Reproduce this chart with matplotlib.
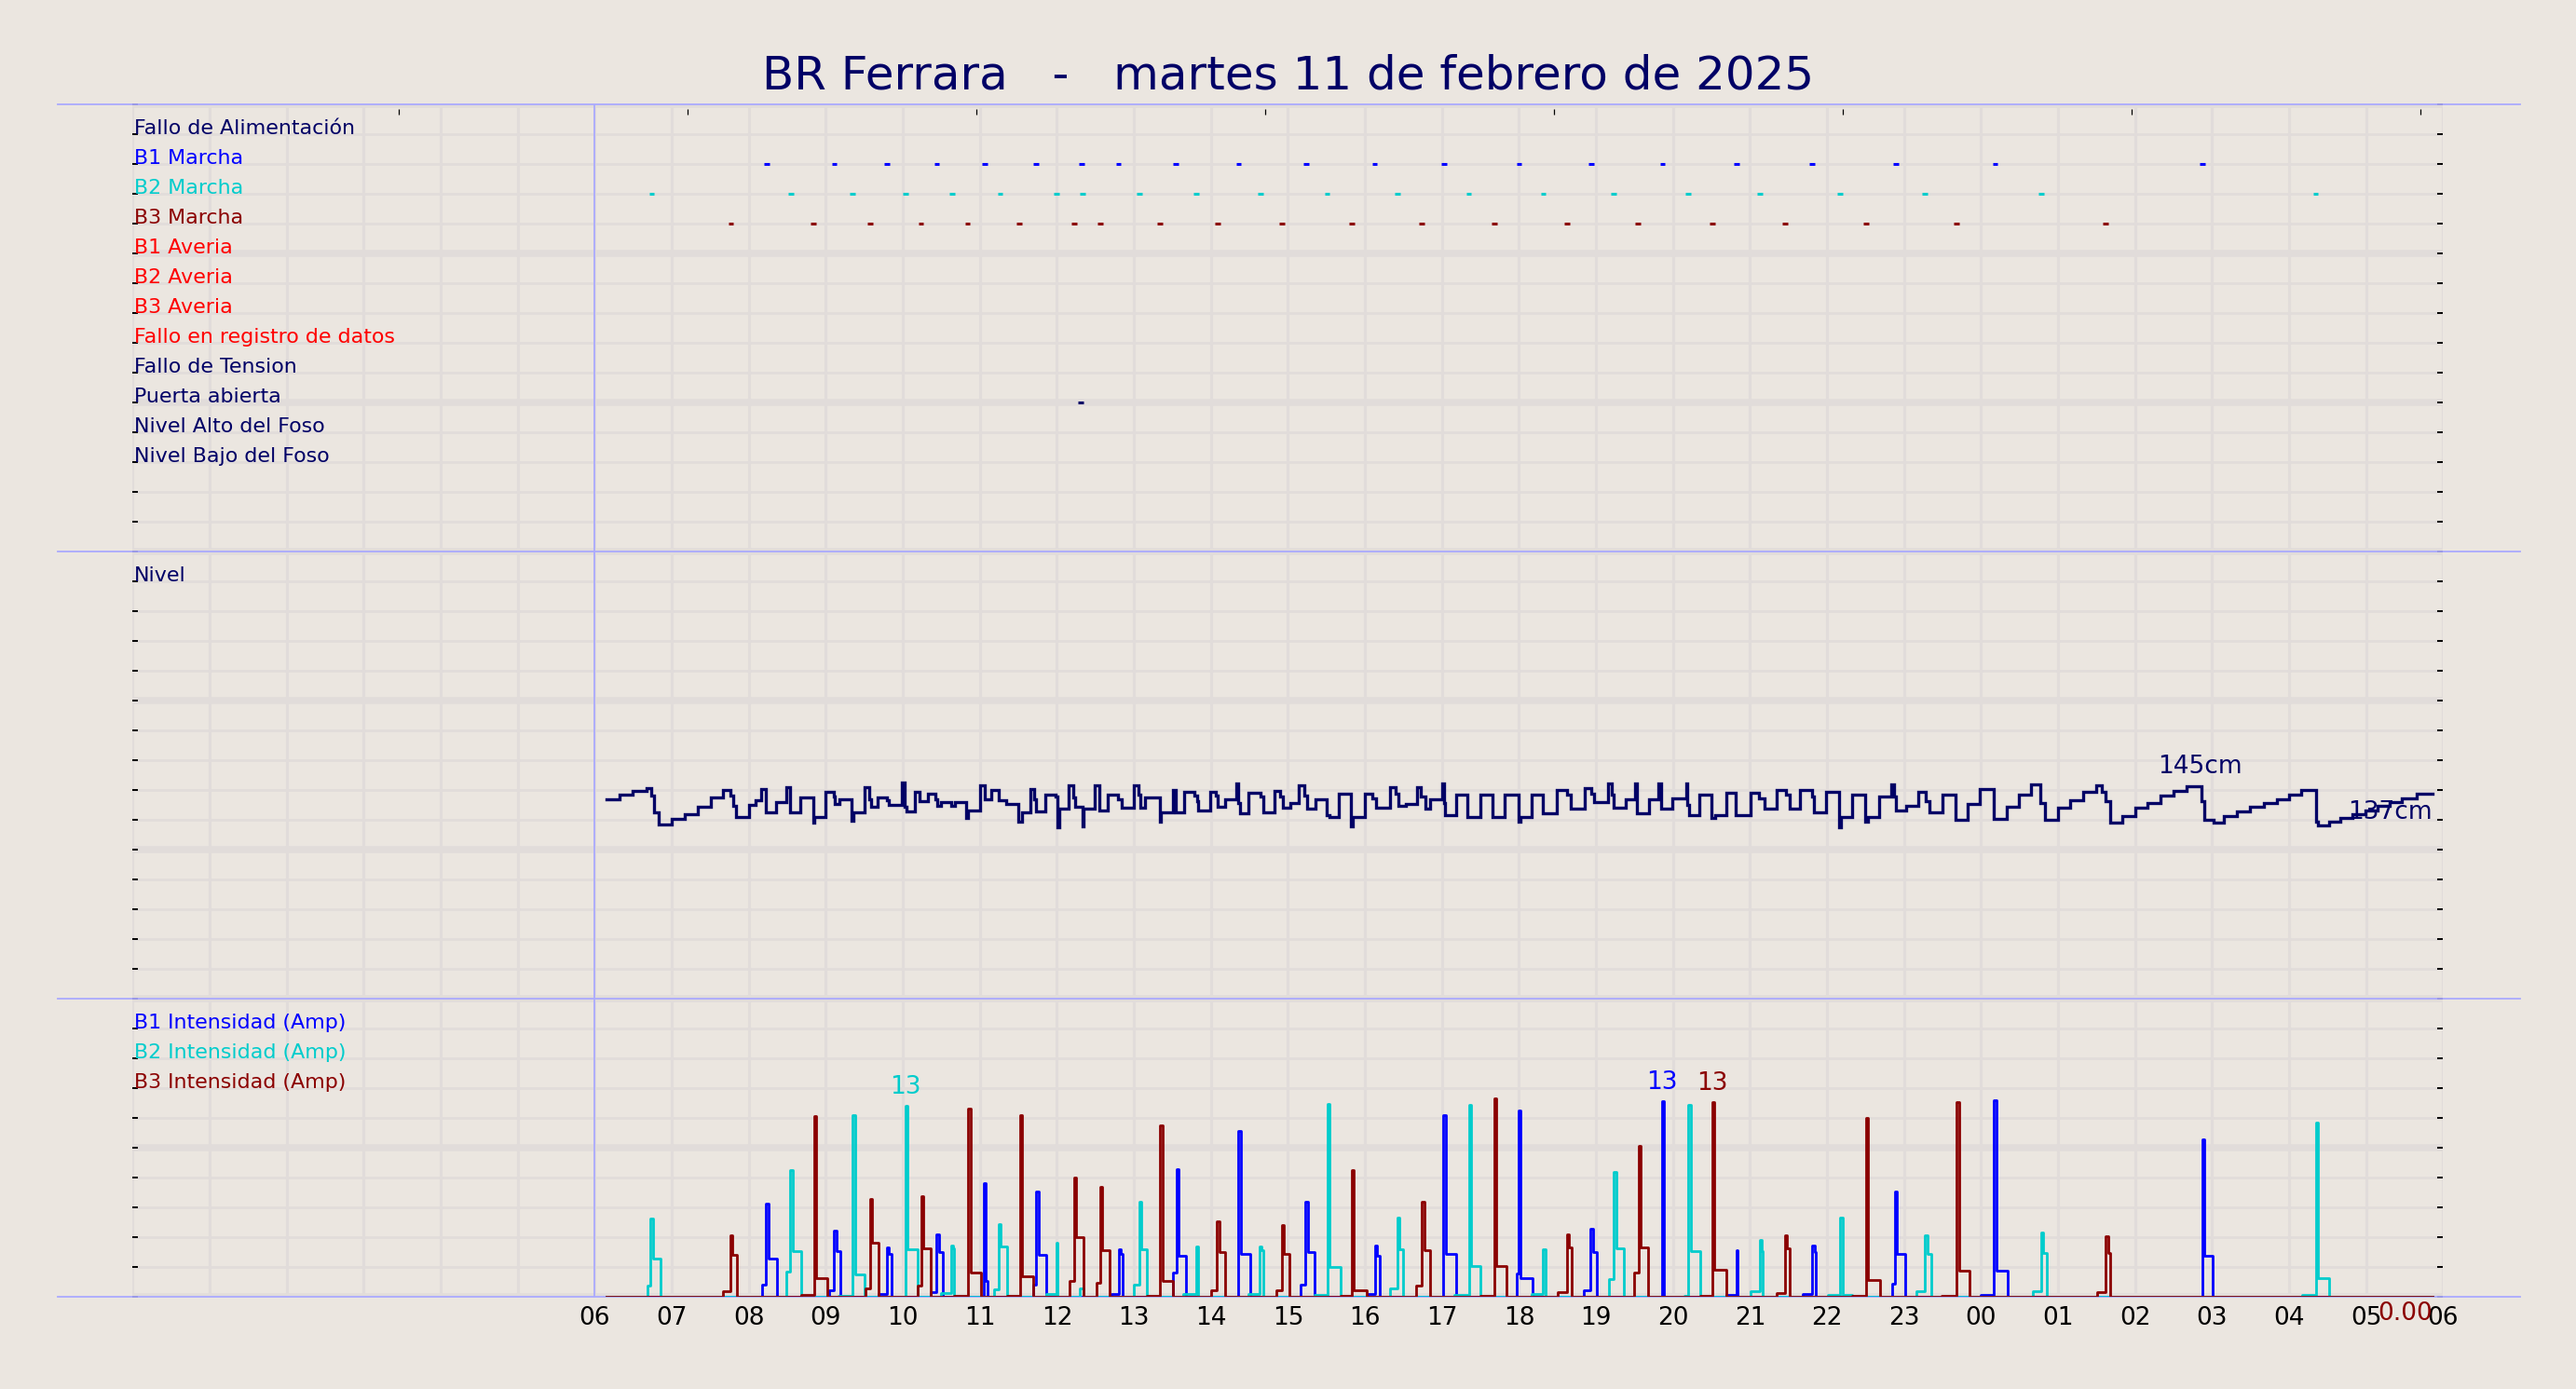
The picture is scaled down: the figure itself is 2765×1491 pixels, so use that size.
import matplotlib
matplotlib.use("Agg")
import matplotlib.pyplot as plt

# ---------------- data ----------------
TITLE = "BR Ferrara   -   martes 11 de febrero de 2025"

EVENT_LABELS = ["Fallo de Alimentación", "B1 Marcha", "B2 Marcha", "B3 Marcha",
                "B1 Averia", "B2 Averia", "B3 Averia", "Fallo en registro de datos",
                "Fallo de Tension", "Puerta abierta", "Nivel Alto del Foso",
                "Nivel Bajo del Foso"]
EVENT_COLORS = ["#000066", "#0000ff", "#00cccc", "#8b0000",
                "#ff0000", "#ff0000", "#ff0000", "#ff0000",
                "#000066", "#000066", "#000066", "#000066"]

# event times (hours from 00:00 of the previous day)
B1_MARCHA = [8.235, 9.108, 9.797, 10.441, 11.060, 11.731, 12.325, 12.800, 13.547, 14.362,
             15.236, 16.127, 17.027, 18.003, 18.935, 19.865, 20.827, 21.809, 22.893,
             24.184, 26.877]
B2_MARCHA = [6.741, 8.548, 9.347, 10.034, 10.637, 11.264, 11.994, 12.333, 13.071, 13.810,
             14.641, 15.507, 16.423, 17.349, 18.317, 19.228, 20.200, 21.129, 22.170,
             23.271, 24.785, 28.346]
B3_MARCHA = [7.768, 8.838, 9.575, 10.237, 10.840, 11.511, 12.224, 12.562, 13.335, 14.090,
             14.922, 15.830, 16.738, 17.681, 18.622, 19.546, 20.509, 21.455, 22.505,
             23.684, 25.619]
PUERTA_ABIERTA = [12.31]

# level (cm), step series
LEVEL_TIME = [6.157, 6.326, 6.494, 6.667, 6.733, 6.769, 6.835, 7.003, 7.166, 7.334, 7.502, 7.660,
              7.761, 7.802, 7.833, 8.006, 8.082, 8.159, 8.220, 8.352, 8.490, 8.541, 8.668, 8.836,
              8.851, 8.999, 9.101, 9.111, 9.177, 9.330, 9.355, 9.498, 9.559, 9.584, 9.676, 9.788,
              9.814, 9.992, 10.027, 10.043, 10.160, 10.221, 10.323, 10.425, 10.450, 10.501,
              10.628, 10.679, 10.817, 10.842, 11.000, 11.061, 11.153, 11.250, 11.341, 11.494,
              11.545, 11.662, 11.708, 11.733, 11.850, 11.978, 12.003, 12.029, 12.156, 12.207,
              12.242, 12.334, 12.344, 12.497, 12.548, 12.665, 12.792, 12.843, 12.996, 13.057,
              13.088, 13.149, 13.337, 13.352, 13.505, 13.541, 13.658, 13.785, 13.821, 13.836,
              13.995, 14.061, 14.087, 14.189, 14.331, 14.351, 14.377, 14.484, 14.647, 14.682,
              14.825, 14.901, 14.937, 15.029, 15.146, 15.217, 15.248, 15.360, 15.502, 15.538,
              15.665, 15.818, 15.843, 15.996, 16.098, 16.149, 16.327, 16.404, 16.429, 16.531,
              16.673, 16.724, 16.785, 16.852, 17.004, 17.025, 17.040, 17.183, 17.335, 17.498,
              17.651, 17.814, 17.992, 18.018, 18.160, 18.313, 18.491, 18.629, 18.669, 18.848,
              18.934, 18.975, 19.153, 19.204, 19.230, 19.382, 19.510, 19.535, 19.688, 19.815,
              19.851, 19.993, 20.172, 20.190, 20.212, 20.340, 20.503, 20.543, 20.696, 20.818,
              21.012, 21.114, 21.190, 21.343, 21.470, 21.511, 21.648, 21.800, 21.827, 21.987,
              22.162, 22.184, 22.322, 22.492, 22.535, 22.679, 22.838, 22.875, 22.891, 23.025,
              23.184, 23.280, 23.333, 23.504, 23.663, 23.823, 23.983, 24.169, 24.329, 24.488,
              24.648, 24.770, 24.824, 24.994, 25.154, 25.324, 25.500, 25.569, 25.622, 25.675,
              25.835, 26.005, 26.165, 26.335, 26.500, 26.671, 26.868, 26.900, 27.017, 27.150,
              27.325, 27.496, 27.671, 27.842, 28.002, 28.161, 28.348, 28.374, 28.518, 28.667,
              28.827, 28.990, 29.146, 29.306, 29.465, 29.652, 29.865]
LEVEL_CM = [142.4, 143.2, 144.0, 144.6, 143.0, 139.7, 137.1, 138.3, 139.2, 140.7, 142.7, 144.2,
            143.0, 141.0, 138.7, 141.1, 142.1, 144.5, 139.7, 141.7, 144.8, 139.7, 142.7, 137.5,
            138.7, 143.9, 142.9, 141.3, 142.3, 137.9, 139.7, 144.8, 142.4, 140.8, 142.7, 142.1,
            141.1, 145.8, 140.8, 139.8, 143.9, 141.9, 143.4, 142.3, 141.0, 141.7,
            141.0, 141.7, 138.4, 140.0, 145.1, 142.3, 144.2, 142.1, 141.3, 137.8,
            139.7, 144.5, 142.4, 139.8, 143.3, 142.8, 136.5, 140.3, 145.1, 142.7,
            140.8, 136.8, 140.3, 145.1, 140.0, 143.3, 142.3, 140.5, 145.1, 143.2,
            140.5, 142.7, 137.8, 139.7, 144.3, 139.7, 143.9, 143.0, 141.9, 140.0,
            143.9, 143.0, 140.7, 142.3, 145.6, 141.5, 139.5, 143.7, 142.9, 139.7,
            144.0, 142.9, 140.5, 141.6, 145.1, 143.0, 140.3, 142.3, 139.1, 138.6,
            143.5, 136.7, 138.7, 143.4, 142.6, 140.5, 144.8, 143.4, 141.0, 141.3,
            144.8, 142.9, 140.3, 142.4, 145.6, 141.6, 139.1, 143.2, 138.6, 143.2,
            138.6, 143.2, 137.8, 138.6, 143.3, 139.4, 144.3, 143.2, 140.3, 144.7,
            143.4, 141.7, 145.5, 143.2, 140.5, 142.4, 145.6, 139.4, 142.4, 145.6,
            140.3, 142.6, 145.6, 141.1, 139.1, 143.2, 138.4, 139.1, 143.7, 139.1,
            143.7, 142.6, 140.3, 144.3, 143.2, 140.3, 144.3, 142.9, 139.7, 143.9,
            136.5, 138.6, 143.2, 137.8, 138.6, 142.9, 145.3, 142.9, 140.0, 141.0,
            143.9, 141.9, 139.7, 143.3, 138.1, 141.3, 144.5, 138.2, 140.7, 143.3,
            145.3, 141.6, 138.1, 140.5, 142.1, 143.9, 145.1, 143.9, 141.9, 137.5,
            138.9, 140.5, 141.6, 143.0, 144.1, 145.0, 141.9, 138.1, 137.5, 138.9,
            139.8, 140.7, 141.5, 142.4, 143.3, 144.2, 137.8, 137.0, 137.8, 138.4,
            139.2, 140.1, 141.0, 141.8, 142.6, 143.4, 143.4]

# pump currents: (start, pre-step A, peak time, peak A, running A, stop)
B1_RUNS = [(8.167, 0.85, 8.226, 6.35, 2.62, 8.362), (9.04, 0.43, 9.11, 4.5, 3.1, 9.186),
           (9.68, 0.17, 9.79, 3.37, 2.9, 9.85), (10.36, 0.32, 10.44, 4.27, 3.03, 10.52),
           (11.03, 0.0, 11.05, 7.73, 1.1, 11.10), (11.69, 0.85, 11.73, 7.2, 2.85, 11.86),
           (12.71, 0.17, 12.80, 3.25, 2.9, 12.85), (13.51, 1.67, 13.55, 8.7, 2.8, 13.68),
           (14.34, 0.0, 14.36, 11.3, 2.9, 14.51), (15.17, 0.85, 15.23, 6.5, 3.03, 15.34),
           (16.03, 0.17, 16.13, 3.46, 2.82, 16.19), (17.00, 0.0, 17.02, 12.39, 2.9, 17.18),
           (17.97, 1.6, 17.99, 12.67, 1.24, 18.18), (18.84, 0.43, 18.93, 4.6, 3.03, 19.01),
           (19.83, 0.0, 19.855, 13.35, 0.0, 19.89), (20.69, 0.1, 20.82, 3.16, 3.16, 20.84),
           (21.68, 0.2, 21.81, 3.5, 3.03, 21.85), (22.84, 0.9, 22.88, 7.15, 2.9, 23.02),
           (24.00, 0.1, 24.17, 13.4, 1.8, 24.35), (26.85, 0.0, 26.87, 10.7, 2.77, 27.01)]
B2_RUNS = [(6.682, 0.75, 6.724, 5.34, 2.62, 6.851), (8.489, 1.7, 8.54, 8.65, 3.1, 8.676),
           (9.17, 0.05, 9.347, 12.35, 1.5, 9.50), (10.01, 0.0, 10.034, 13.03, 3.25, 10.187),
           (10.50, 0.25, 10.628, 3.5, 3.3, 10.67), (11.18, 0.5, 11.24, 4.97, 3.4, 11.35),
           (11.86, 0.2, 11.99, 3.7, 3.7, 12.01), (12.30, 0.6, 12.33, 0.6, 0.6, 12.35),
           (13.00, 0.8, 13.07, 6.5, 3.25, 13.174), (13.64, 0.2, 13.81, 3.45, 3.2, 13.836),
           (14.49, 0.2, 14.63, 3.45, 3.2, 14.68), (15.34, 0.1, 15.51, 13.1, 2.0, 15.68),
           (16.33, 0.6, 16.42, 5.4, 3.25, 16.50), (17.16, 0.1, 17.35, 13.07, 2.07, 17.50),
           (18.16, 0.2, 18.31, 3.25, 3.25, 18.35), (19.17, 1.2, 19.23, 8.5, 3.3, 19.36),
           (20.15, 0.05, 20.20, 13.07, 3.1, 20.35), (21.01, 0.35, 21.13, 3.9, 3.1, 21.16),
           (22.01, 0.1, 22.17, 5.4, 0.1, 22.32), (23.16, 0.35, 23.27, 4.2, 2.9, 23.36),
           (24.67, 0.35, 24.78, 4.4, 3.0, 24.85), (28.17, 0.1, 28.35, 11.85, 1.3, 28.52)]
B3_RUNS = [(7.66, 0.35, 7.76, 4.2, 2.85, 7.84), (8.68, 0.1, 8.846, 12.3, 1.28, 9.016),
           (9.51, 0.6, 9.57, 6.66, 3.67, 9.69), (10.19, 0.75, 10.24, 6.83, 3.3, 10.36),
           (10.67, 0.05, 10.85, 12.8, 1.67, 11.01), (11.35, 0.05, 11.52, 12.4, 1.4, 11.69),
           (12.17, 1.07, 12.22, 8.1, 4.05, 12.34), (12.51, 0.95, 12.56, 7.5, 3.2, 12.69),
           (13.17, 0.05, 13.34, 11.7, 1.07, 13.51), (14.00, 0.43, 14.08, 5.17, 3.03, 14.19),
           (14.85, 0.43, 14.92, 4.9, 2.9, 15.02), (15.68, 0.05, 15.83, 8.65, 0.43, 16.02),
           (16.67, 0.75, 16.74, 6.5, 3.16, 16.85), (17.50, 0.05, 17.68, 13.5, 2.07, 17.84),
           (18.50, 0.3, 18.62, 4.27, 3.37, 18.69), (19.49, 1.67, 19.55, 10.25, 3.37, 19.68),
           (20.35, 0.05, 20.51, 13.24, 1.86, 20.69), (21.34, 0.28, 21.455, 4.2, 3.3, 21.52),
           (22.32, 0.05, 22.505, 12.2, 1.17, 22.69), (23.49, 0.05, 23.684, 13.24, 1.8, 23.85),
           (25.51, 0.3, 25.62, 4.12, 3.0, 25.68)]
SERIES_START, SERIES_END = 6.15, 29.86

INTENSITY_LABELS = ["B1 Intensidad (Amp)", "B2 Intensidad (Amp)", "B3 Intensidad (Amp)"]
PEAK_LABELS = [(10.034, 13.03, "13", "#00cccc"), (19.855, 13.35, "13", "#0000ff"),
               (20.51, 13.24, "13", "#8b0000")]
LEVEL_MAX = (26.77, 145.0, "145cm")
LEVEL_MIN = (29.865, 137.0, "137cm")

HOUR_TICKS = list(range(6, 31))
HOUR_LABELS = ["%02d" % (h % 24) for h in HOUR_TICKS]
TOP_TICKS = [3.45, 7.2, 10.95, 14.7, 18.45, 22.2, 25.95, 29.7]

# ---------------- style ----------------
BG = "#ebe6e0"
GRID = "#e1dcda"
LBLUE = "#aaaaff"
NAVY = "#000066"
C1, C2, C3 = "#0000ff", "#00cccc", "#8b0000"
LABEL_FS = 15.95

W, H, DPI = 2765, 1491, 100
fig = plt.figure(figsize=(W / DPI, H / DPI), dpi=DPI, facecolor=BG)

X0, X1 = 142.4, 2622.4


def pos(ytop, ybot):
    return [X0 / W, 1 - ybot / H, (X1 - X0) / W, (ybot - ytop) / H]


# background grid axes (40 rows of 32 px)
bg = fig.add_axes(pos(112, 1392))
bg.set_facecolor(BG)
bg.set_xlim(0, 30)
bg.set_ylim(0, 40)
for s in bg.spines.values():
    s.set_visible(False)
for k in range(41):
    bg.axhline(k, color=GRID, lw=5.4 if k % 5 == 0 else 2.0, zorder=0)
for h in range(31):
    bg.axvline(h, color=GRID, lw=2.3, zorder=0)
bg.set_yticks(range(41))
bg.tick_params(axis="y", left=True, right=True, direction="in", length=4.5, width=1.4,
               labelleft=False, colors="black")
bg.set_xticks(HOUR_TICKS)
bg.set_xticklabels(HOUR_LABELS)
bg.tick_params(axis="x", length=0, labelsize=19, pad=7, colors="black")
sec = bg.secondary_xaxis(0.996)
sec.set_xticks(TOP_TICKS)
sec.tick_params(direction="in", length=4.5, width=0.9, labeltop=False, colors="black")
for s in sec.spines.values():
    s.set_visible(False)

# panel separator lines
for yy in [40, 25, 10, 0]:
    bg.axhline(yy, xmin=(62 - X0) / (X1 - X0), xmax=(2705 - X0) / (X1 - X0),
               color=LBLUE, lw=1.3, clip_on=False, zorder=5)
bg.axvline(6, color=LBLUE, lw=1.3, zorder=5)

# labels of rows
for k, (lab, col) in enumerate(zip(EVENT_LABELS, EVENT_COLORS)):
    bg.text(0.015, 39 - k, lab, color=col, fontsize=LABEL_FS, ha="left", va="baseline")
bg.text(0.015, 24, "Nivel", color=NAVY, fontsize=LABEL_FS, ha="left", va="baseline")
for k, (lab, col) in enumerate(zip(INTENSITY_LABELS, [C1, C2, C3])):
    bg.text(0.015, 9 - k, lab, color=col, fontsize=LABEL_FS, ha="left", va="baseline")
bg.text(29.86, -0.56, "0.00", color=C3, fontsize=19, ha="right", va="center")

# ---- events panel ----
top = fig.add_axes(pos(112, 592))
top.set_xlim(0, 30)
top.set_ylim(0, 15)
top.axis("off")
for times, row, col in [(B1_MARCHA, 13, C1), (B2_MARCHA, 12, C2), (B3_MARCHA, 11, C3),
                        (PUERTA_ABIERTA, 5, NAVY)]:
    top.hlines([row] * len(times), [t - 0.034 for t in times], [t + 0.034 for t in times],
               colors=col, lw=2.2)

# ---- level panel ----
mid = fig.add_axes(pos(592, 1072))
mid.set_xlim(0, 30)
mid.set_ylim(101.24, 193.37)
mid.axis("off")
mid.plot(LEVEL_TIME, LEVEL_CM, drawstyle="steps-post", color=NAVY, lw=2.4,
         solid_joinstyle="miter")
mid.annotate(LEVEL_MAX[2], xy=LEVEL_MAX[:2], xytext=(6, 21), textcoords="offset pixels",
             ha="center", va="center", fontsize=19, color=NAVY)
mid.annotate(LEVEL_MIN[2], xy=LEVEL_MIN[:2], xytext=(0, 14), textcoords="offset pixels",
             ha="right", va="center", fontsize=19, color=NAVY)

# ---- intensity panel ----
bot = fig.add_axes(pos(1072, 1392))
bot.set_xlim(0, 30)
bot.set_ylim(0, 20.3)
bot.axis("off")


def build(runs):
    t, v = [SERIES_START], [0.0]
    for s, pre, tp, pk, run, e in runs:
        t += [s, tp, min(tp + 0.03, e - 0.005), e]
        v += [pre, pk, run, 0.0]
    t.append(SERIES_END)
    v.append(0.0)
    return t, v


for runs, col in [(B1_RUNS, C1), (B2_RUNS, C2), (B3_RUNS, C3)]:
    tt, vv = build(runs)
    bot.plot(tt, vv, drawstyle="steps-post", color=col, lw=2.0, clip_on=True)
for tp, pk, txt, col in PEAK_LABELS:
    bot.annotate(txt, xy=(tp, pk), xytext=(0, 20), textcoords="offset pixels",
                 ha="center", va="center", fontsize=19, color=col)

fig.text(0.5, 1 - 81 / H, TITLE, ha="center", va="center", fontsize=36, color=NAVY)

fig.savefig("out.png", dpi=DPI, facecolor=BG)
